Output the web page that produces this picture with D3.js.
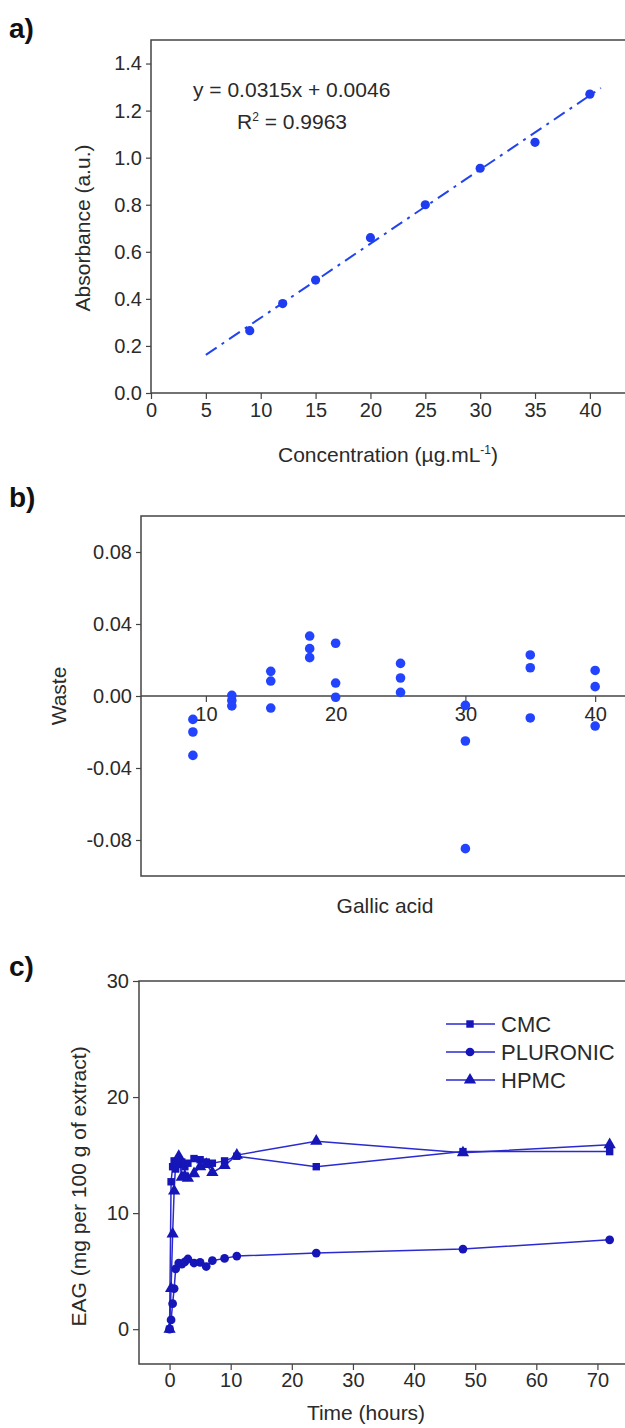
<!DOCTYPE html>
<html><head><meta charset="utf-8">
<script src="https://cdn.jsdelivr.net/npm/d3@7/dist/d3.min.js"></script>
<style>
body{margin:0;background:#fff;}
svg{display:block;font-family:"Liberation Sans",Arial,sans-serif;}
</style></head>
<body><svg id="c" width="625" height="1428"></svg>
<script>
// ---- Panel a: calibration ----
const concX = [9, 12, 15, 20, 25, 30, 35, 40];
const absY = [0.265, 0.38, 0.48, 0.66, 0.80, 0.955, 1.065, 1.27];
const fitSlope = 0.0315, fitIntercept = 0.0046;
const fitRange = [5, 41];
const aXTicks = [0, 5, 10, 15, 20, 25, 30, 35, 40];
const aYTicks = [0.0, 0.2, 0.4, 0.6, 0.8, 1.0, 1.2, 1.4];

// ---- Panel b: residuals ----
const resX = [9,9,9, 12,12,12, 15,15,15, 18,18,18, 20,20,20, 25,25,25, 30,30,30, 35,35,35, 40,40,40];
const resY = [-0.013,-0.020,-0.033, 0.0004,-0.0025,-0.0055, 0.0137,0.0083,-0.0067,
              0.0333,0.0263,0.0213, 0.0293,0.0072,-0.0007, 0.0181,0.0100,0.0020,
              -0.0052,-0.0250,-0.0848, 0.0228,0.0157,-0.0122, 0.0142,0.0052,-0.0167];
const bXTicks = [10, 20, 30, 40];
const bYTicks = [0.08, 0.04, 0.00, -0.04, -0.08];

// ---- Panel c: release ----
const timeH = [0, 0.25, 0.5, 0.75, 1, 1.5, 2, 2.5, 3, 4, 5, 6, 7, 9, 11, 24, 48, 72];
const cmc = [0, 12.7, 14.0, 14.5, 13.8, 14.2, 14.4, 14.0, 14.3, 14.7, 14.6, 14.4, 14.3, 14.5, 14.9, 14.0, 15.3, 15.3];
const pluronic = [0, 0.8, 2.2, 3.5, 5.2, 5.7, 5.6, 5.8, 6.05, 5.7, 5.75, 5.4, 5.9, 6.1, 6.3, 6.56, 6.9, 7.7];
const hpmc = [0, 3.5, 8.2, 11.9, 14.3, 14.9, 13.1, 13.2, 13.0, 13.4, 14.0, 14.2, 13.5, 14.1, 15.0, 16.2, 15.2, 15.9];
const seriesNames = ["CMC", "PLURONIC", "HPMC"];
const cXTicks = [0, 10, 20, 30, 40, 50, 60, 70];
const cYTicks = [0, 10, 20, 30];

const svg = d3.select("#c");
const frameCol = "#444";
const txt = "#2a2a2a";
const TF = 20;   // tick font
const LF = 21;   // label font

function frame(x0, y0, x1, y1) {
  svg.append("path").attr("d", `M${x1},${y0}H${x0}V${y1}H${x1}`)
    .attr("fill", "none").attr("stroke", frameCol).attr("stroke-width", 1.5);
}
function styleAxis(g) {
  g.selectAll("path.domain").remove();
  g.selectAll("line").attr("stroke", frameCol).attr("stroke-width", 1.2);
  g.selectAll("text").attr("fill", txt).style("font-size", TF + "px")
    .style("font-family", '"Liberation Sans",Arial,sans-serif');
}
function panelLabel(t, y) {
  svg.append("text").attr("x", 9).attr("y", y).text(t)
    .style("font-size", "28px").style("font-weight", "bold").attr("fill", "#111");
}
const hy = d => d.toFixed(2).replace("\u2212", "-");

// ===== Panel a =====
{
  const x = d3.scaleLinear().domain([0, 43.2]).range([151, 625]);
  const y = d3.scaleLinear().domain([0, 1.5]).range([393, 40]);
  frame(x.range()[0], y(1.5), 640, y(0));
  const ga = svg.append("g").attr("transform", `translate(0,${y(0)})`)
    .call(d3.axisBottom(x).tickValues(aXTicks).tickFormat(d3.format("d")).tickSize(6).tickPadding(4));
  styleAxis(ga);
  const gy = svg.append("g").attr("transform", `translate(${x(0)},0)`)
    .call(d3.axisLeft(y).tickValues(aYTicks).tickFormat(d3.format(".1f")).tickSize(5).tickPadding(4));
  styleAxis(gy);
  const line = d3.line().x(d => x(d)).y(d => y(fitSlope * d + fitIntercept));
  svg.append("path").datum(fitRange).attr("d", line)
    .attr("stroke", "#2244ee").attr("stroke-width", 2).attr("fill", "none")
    .attr("stroke-dasharray", "13,6,3,6");
  svg.append("g").selectAll("circle").data(concX).join("circle")
    .attr("cx", d => x(d)).attr("cy", (d, i) => y(absY[i])).attr("r", 4.6).attr("fill", "#1f3cf0");
  svg.append("text").attr("x", 193).attr("y", 97).attr("fill", txt).style("font-size", LF + "px")
    .text("y = 0.0315x + 0.0046");
  const r = svg.append("text").attr("x", 237).attr("y", 129).attr("fill", txt).style("font-size", LF + "px");
  r.append("tspan").text("R");
  r.append("tspan").attr("dy", -8).style("font-size", "12px").text("2");
  r.append("tspan").attr("dy", 8).text(" = 0.9963");
  svg.append("text").attr("transform", `translate(90,228) rotate(-90)`)
    .attr("text-anchor", "middle").attr("fill", txt).style("font-size", LF + "px").text("Absorbance (a.u.)");
  const xl = svg.append("text").attr("x", 388).attr("y", 462).attr("text-anchor", "middle")
    .attr("fill", txt).style("font-size", LF + "px");
  xl.append("tspan").text("Concentration (µg.mL");
  xl.append("tspan").attr("dy", -8).style("font-size", "12px").text("-1");
  xl.append("tspan").attr("dy", 8).text(")");
  panelLabel("a)", 38);
}

// ===== Panel b =====
{
  const x = d3.scaleLinear().domain([5, 42.3]).range([141, 625]);
  const y = d3.scaleLinear().domain([-0.1, 0.1]).range([876, 516]);
  frame(141, 516, 640, 876);
  svg.append("line").attr("x1", 141).attr("x2", 640).attr("y1", y(0)).attr("y2", y(0))
    .attr("stroke", frameCol).attr("stroke-width", 1.5);
  const gx = svg.append("g").attr("transform", `translate(0,${y(0)})`)
    .call(d3.axisBottom(x).tickValues(bXTicks).tickFormat(d3.format("d")).tickSize(6).tickPadding(5));
  styleAxis(gx);
  const gy = svg.append("g").attr("transform", `translate(141,0)`)
    .call(d3.axisLeft(y).tickValues(bYTicks).tickFormat(hy).tickSize(5).tickPadding(4));
  styleAxis(gy);
  svg.append("g").selectAll("circle").data(resX).join("circle")
    .attr("cx", d => x(d)).attr("cy", (d, i) => y(resY[i])).attr("r", 4.8).attr("fill", "#2244ff");
  svg.append("text").attr("transform", `translate(66,${y(0)}) rotate(-90)`)
    .attr("text-anchor", "middle").attr("fill", txt).style("font-size", LF + "px").text("Waste");
  svg.append("text").attr("x", 385).attr("y", 913).attr("text-anchor", "middle")
    .attr("fill", txt).style("font-size", LF + "px").text("Gallic acid");
  panelLabel("b)", 507);
}

// ===== Panel c =====
{
  const x = d3.scaleLinear().domain([-5, 75]).range([139, 628]);
  const y = d3.scaleLinear().domain([-3, 30]).range([1364, 981]);
  frame(139, 981, 640, 1364);
  const gx = svg.append("g").attr("transform", `translate(0,1364)`)
    .call(d3.axisBottom(x).tickValues(cXTicks).tickFormat(d3.format("d")).tickSize(6).tickPadding(3));
  styleAxis(gx);
  const gy = svg.append("g").attr("transform", `translate(139,0)`)
    .call(d3.axisLeft(y).tickValues(cYTicks).tickFormat(d3.format("d")).tickSize(6).tickPadding(4));
  styleAxis(gy);
  const lineCol = "#2a2ad0", markCol = "#1515b8";
  const data = [cmc, pluronic, hpmc];
  const symbols = [d3.symbolSquare, d3.symbolCircle, d3.symbolTriangle];
  const sizes = [55, 60, 65];
  const line = d3.line().x((d, i) => x(timeH[i])).y(d => y(d));
  data.forEach((s, k) => {
    svg.append("path").datum(s).attr("d", line).attr("fill", "none")
      .attr("stroke", lineCol).attr("stroke-width", 1.5);
  });
  data.forEach((s, k) => {
    svg.append("g").selectAll("path").data(s).join("path")
      .attr("d", d3.symbol().type(symbols[k]).size(sizes[k]))
      .attr("transform", (d, i) => `translate(${x(timeH[i])},${y(d)})`)
      .attr("fill", markCol);
  });
  // legend
  seriesNames.forEach((n, k) => {
    const ly = 1024 + k * 28;
    svg.append("line").attr("x1", 446).attr("x2", 495).attr("y1", ly).attr("y2", ly)
      .attr("stroke", lineCol).attr("stroke-width", 1.5);
    svg.append("path").attr("d", d3.symbol().type(symbols[k]).size(sizes[k])())
      .attr("transform", `translate(470,${ly})`).attr("fill", markCol);
    svg.append("text").attr("x", 501).attr("y", ly + 8).attr("fill", txt)
      .style("font-size", "22px").text(n);
  });
  svg.append("text").attr("transform", `translate(86,${y(12.3)}) rotate(-90)`)
    .attr("text-anchor", "middle").attr("fill", txt).style("font-size", LF + "px").text("EAG (mg per 100 g of extract)");
  svg.append("text").attr("x", 366).attr("y", 1420).attr("text-anchor", "middle")
    .attr("fill", txt).style("font-size", LF + "px").text("Time (hours)");
  panelLabel("c)", 976);
}
</script></body></html>
